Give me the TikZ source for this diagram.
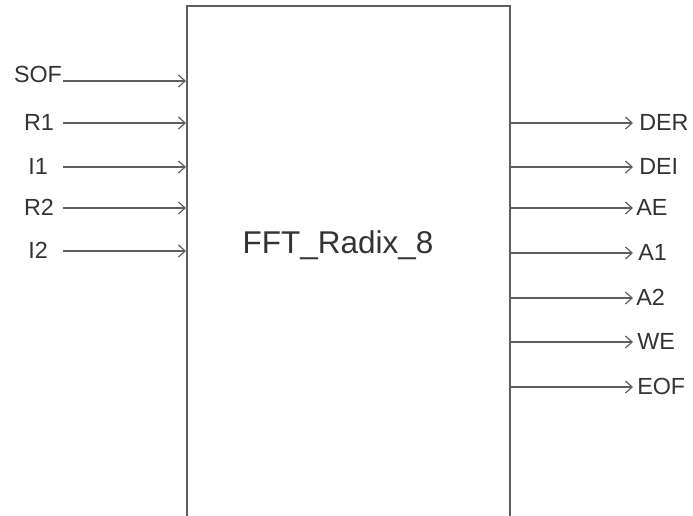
\documentclass[tikz,border=0pt]{standalone}
\usepackage{fontspec}
\setmainfont{Liberation Sans}
\usetikzlibrary{arrows.meta}
\definecolor{linegray}{HTML}{5E5E5E}
\definecolor{textgray}{HTML}{333333}
\begin{document}
\begin{tikzpicture}[x=0.75pt,y=-0.75pt,
  lbl/.style={inner sep=0pt,text=textgray,font=\fontsize{17.5}{21}\selectfont},
  sig/.style={draw=linegray,line width=0.85pt,-{Straight Barb[length=5pt,width=9pt,line width=0.9pt]}},
  blk/.style={draw=linegray,line width=1.3pt,inner sep=0pt}]
\clip (0,0) rectangle (693,516);
\node[blk,minimum width=323*0.75pt,minimum height=560*0.75pt,anchor=north west] (box) at (186,5) {};
\node[inner sep=0pt,text=textgray,font=\fontsize{23.6}{28}\selectfont,anchor=base] (title) at (338,254) {FFT\_Radix\_8};
% inputs
\node[lbl,anchor=base] (SOF) at (38,83) {SOF};
\node[lbl,anchor=base] (R1) at (39,131) {R1};
\node[lbl,anchor=base] (I1) at (38,175) {I1};
\node[lbl,anchor=base] (R2) at (39,216) {R2};
\node[lbl,anchor=base] (I2) at (38,259) {I2};
\coordinate (sSOF) at (63,81);
\coordinate (sR1) at (63,123);
\coordinate (sI1) at (63,167);
\coordinate (sR2) at (63,208);
\coordinate (sI2) at (63,251);
\foreach \n in {SOF,R1,I1,R2,I2}
  \draw[sig] (s\n) -- (box.west |- s\n);
% outputs
\node[lbl,anchor=base west] (DER) at (639,131) {DER};
\node[lbl,anchor=base west] (DEI) at (639,175) {DEI};
\node[lbl,anchor=base west] (AE) at (636,216) {AE};
\node[lbl,anchor=base west] (A1) at (638,261) {A1};
\node[lbl,anchor=base west] (A2) at (636,306) {A2};
\node[lbl,anchor=base west] (WE) at (637,350) {WE};
\node[lbl,anchor=base west] (EOF) at (637,395) {EOF};
\coordinate (eDER) at (633,123);
\coordinate (eDEI) at (633,167);
\coordinate (eAE) at (633,208);
\coordinate (eA1) at (633,253);
\coordinate (eA2) at (633,298);
\coordinate (eWE) at (633,342);
\coordinate (eEOF) at (633,387);
\foreach \n in {DER,DEI,AE,A1,A2,WE,EOF}
  \draw[sig] (box.east |- e\n) -- (e\n);
\end{tikzpicture}
\end{document}
